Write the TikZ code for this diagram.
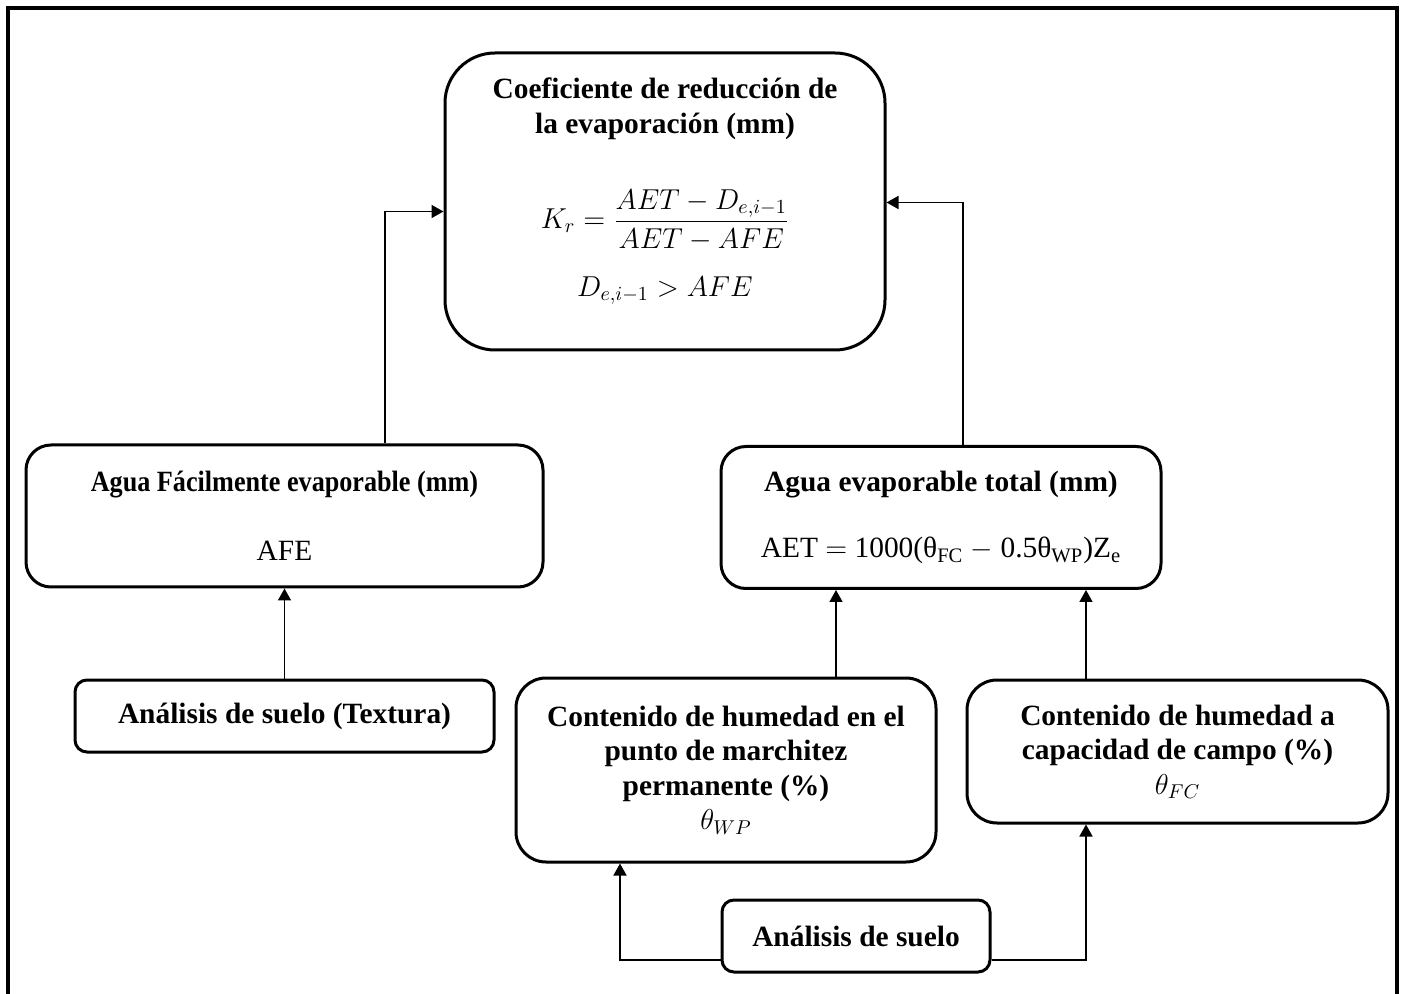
\documentclass[tikz,border=0pt]{standalone}
\usepackage{fontspec}
\setmainfont{Liberation Serif}
\usepackage{amsmath}
\usepackage{graphicx}
\usetikzlibrary{arrows.meta}
\begin{document}
\begin{tikzpicture}[x=0.5pt,y=-0.5pt,
  font=\fontsize{14.7}{17.25}\selectfont,
  box/.style={draw, line width=1.5pt, align=center, inner sep=0pt},
  arr/.style={line width=0.8pt, -{Triangle[length=6pt,width=6.5pt]}}]
\useasboundingbox (0,0) rectangle (1404,994);
% outer frame, open at the foot of the page
\draw[line width=1.7pt] (8,1010) -- (8,8) -- (1397,8) -- (1397,1010);

% result box
\node[box, rounded corners=25pt, minimum width=220pt, minimum height=148.5pt]
  (top) at (665,201.5) {\textbf{Coeficiente de reducción de}\\
  \textbf{la evaporación (mm)}\\[24pt]
  $K_r=\dfrac{AET-D_{e,i-1}}{AET-AFE}$\\[12pt]
  $D_{e,i-1}>AFE$\\[-3pt]};

% second row
\node[box, rounded corners=12.5pt, minimum width=258.5pt, minimum height=71pt]
  (afe) at (284.5,516) {\scalebox{0.89}[1]{\textbf{Agua Fácilmente evaporable (mm)}}\\[17pt] AFE};
\node[box, rounded corners=12.5pt, minimum width=220pt, minimum height=71pt]
  (aet) at (941,517.5) {\textbf{Agua evaporable total (mm)}\\[16pt]
  AET $=$ 1000(θ\textsubscript{FC} $-$ 0.5θ\textsubscript{WP})Z\textsubscript{e}};

% third row
\node[box, rounded corners=6pt, minimum width=209.5pt, minimum height=36pt]
  (tex) at (284.5,716) {\textbf{Análisis de suelo (Textura)}};
\node[box, rounded corners=15pt, minimum width=210pt, minimum height=92pt]
  (wp) at (726,770) {\textbf{Contenido de humedad en el}\\
  \textbf{punto de marchitez}\\ \textbf{permanente (\%)}\\ $\theta_{WP}$};
\node[box, rounded corners=15pt, minimum width=210.5pt, minimum height=71.5pt]
  (fc) at (1177.5,751.5) {\textbf{Contenido de humedad a}\\
  \textbf{capacidad de campo (\%)}\\ $\theta_{FC}$};

% soil analysis
\node[box, rounded corners=6pt, minimum width=134pt, minimum height=36pt]
  (suelo) at (856,936) {\textbf{Análisis de suelo}};

% anchor points of the connectors
\coordinate (afeup) at ([xshift=50.25pt]afe.north);
\coordinate (aetup) at ([xshift=11pt]aet.north);
\coordinate (wpup) at ([xshift=55pt]wp.north);
\coordinate (fcup) at ([xshift=-45.75pt]fc.north);
\coordinate (wpin) at ([xshift=-53pt]wp.south);
\coordinate (fcin) at ([xshift=-45.75pt]fc.south);
\coordinate (sl) at ([yshift=-12pt]suelo.west);
\coordinate (sr) at ([yshift=-12pt]suelo.east);
\coordinate (tl) at ([yshift=-5pt]top.west);
\coordinate (tr) at ([yshift=-0.5pt]top.east);

% connectors
\draw[arr] (afeup) |- (tl);
\draw[arr] (aetup) |- (tr);
\draw[arr] (tex.north) -- (afe.south);
\draw[arr] (wpup) -- (wpup |- aet.south);
\draw[arr] (fcup) -- (fcup |- aet.south);
\draw[arr] (sl) -| (wpin);
\draw[arr] (sr) -| (fcin);
\end{tikzpicture}
\end{document}
